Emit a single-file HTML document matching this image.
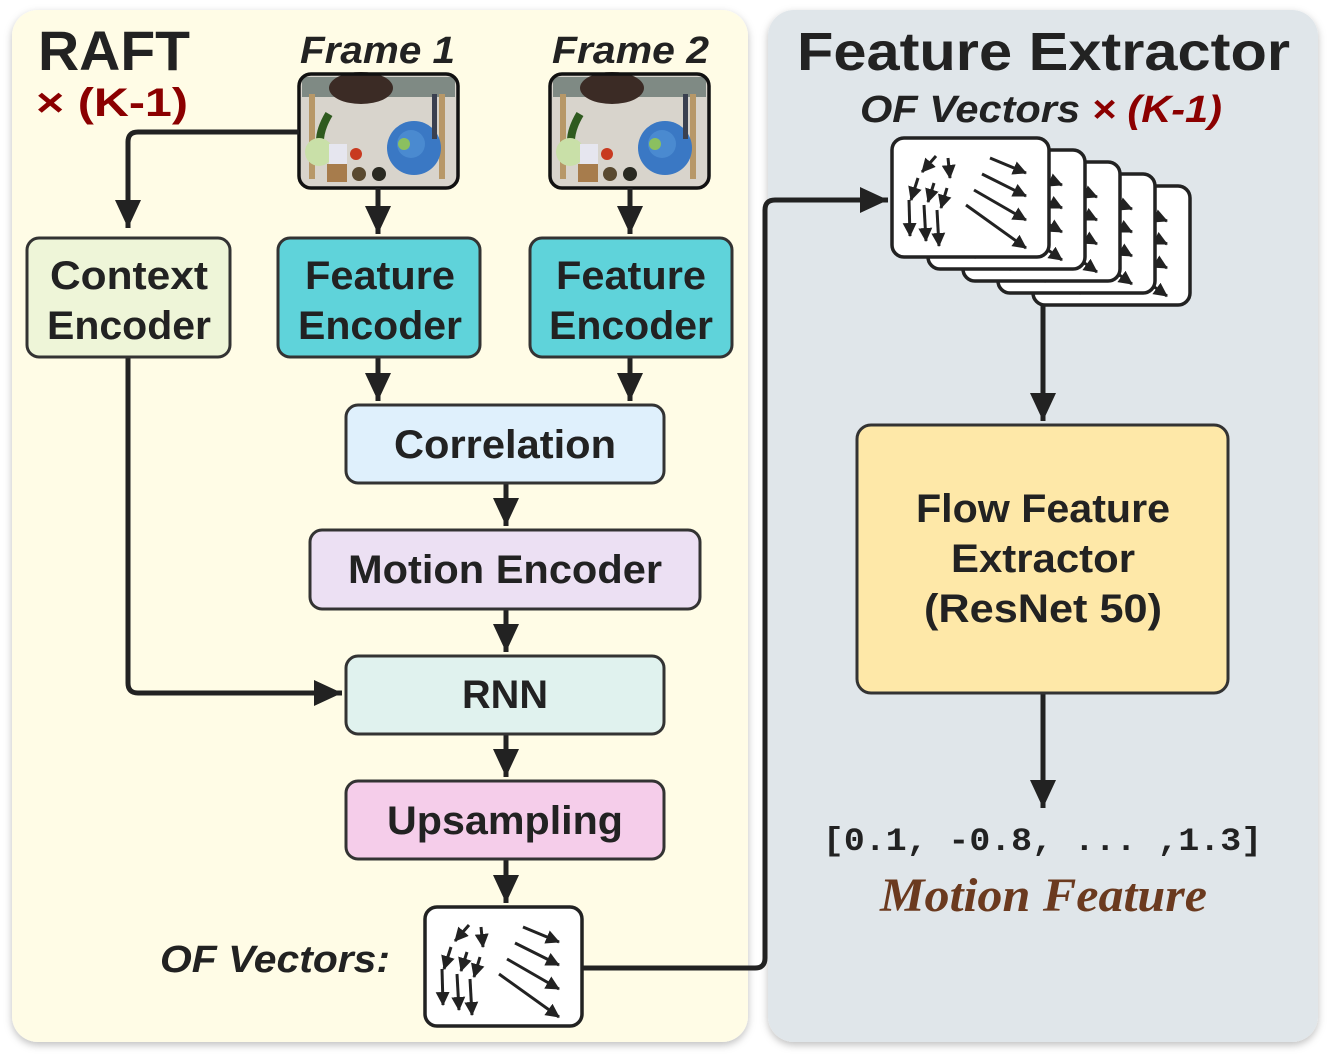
<!DOCTYPE html>
<html><head><meta charset="utf-8"><style>
body{margin:0;background:#fff;}
svg{display:block;font-family:"Liberation Sans",sans-serif;}
</style></head><body>
<svg width="1329" height="1060" viewBox="0 0 1329 1060" xmlns="http://www.w3.org/2000/svg">
<defs>
<filter id="sh" x="-5%" y="-5%" width="110%" height="110%"><feDropShadow dx="0" dy="3" stdDeviation="4" flood-color="#000" flood-opacity="0.25"/></filter>
<marker id="ah" markerWidth="16" markerHeight="16" refX="13" refY="7" orient="auto" markerUnits="userSpaceOnUse"><path d="M0,0 L14,7 L0,14z" fill="#222"/></marker>
<marker id="big" markerWidth="30" markerHeight="30" refX="28" refY="13" orient="auto" markerUnits="userSpaceOnUse"><path d="M0,0 L28,13 L0,26z" fill="#222"/></marker>
<g id="photo">
<rect x="0" y="0" width="159" height="114" rx="12" fill="#d8d4cc"/>
<rect x="3" y="3" width="153" height="20" fill="#7f8a84"/>
<ellipse cx="62" cy="14" rx="32" ry="16" fill="#3b2b25"/>
<rect x="10" y="20" width="6" height="85" fill="#b79868"/>
<rect x="140" y="20" width="6" height="85" fill="#b79868"/>
<path d="M30,40 Q18,60 22,75" stroke="#2f5a1f" stroke-width="8" fill="none"/>
<circle cx="20" cy="78" r="14" fill="#c9e0a8"/>
<rect x="30" y="70" width="18" height="20" fill="#e6e6ef"/>
<circle cx="57" cy="80" r="6" fill="#c83a20"/>
<rect x="28" y="90" width="20" height="18" fill="#a77c4c"/>
<circle cx="60" cy="100" r="7" fill="#5a4a30"/>
<circle cx="80" cy="100" r="7" fill="#2a2a22"/>
<circle cx="115" cy="74" r="27" fill="#3a78c4"/>
<circle cx="112" cy="70" r="14" fill="#4a8ad0"/>
<circle cx="105" cy="70" r="6" fill="#8bc060"/>
<rect x="133" y="20" width="5" height="45" fill="#3a4050"/>
<rect x="0" y="0" width="159" height="114" rx="12" fill="none" stroke="#111" stroke-width="3.5"/>
</g>
<g id="vec">
<rect x="0" y="0" width="157" height="119" rx="12" fill="#fff" stroke="#222" stroke-width="3.5"/>
<g stroke="#222" stroke-width="3" marker-end="url(#ah)">
<line x1="44" y1="18" x2="30" y2="34"/><line x1="56" y1="20" x2="58" y2="40"/>
<line x1="26" y1="40" x2="19" y2="62"/><line x1="42" y1="45" x2="36" y2="64"/><line x1="55" y1="50" x2="49" y2="70"/>
<line x1="17" y1="62" x2="18" y2="98"/><line x1="32" y1="67" x2="34" y2="103"/><line x1="45" y1="72" x2="47" y2="108"/>
<line x1="98" y1="20" x2="134" y2="35"/><line x1="90" y1="36" x2="134" y2="58"/><line x1="82" y1="52" x2="134" y2="82"/><line x1="74" y1="67" x2="134" y2="110"/>
</g>
</g>
</defs>

<rect x="12" y="10" width="736" height="1032" rx="26" fill="#fffce6" filter="url(#sh)"/>
<rect x="768" y="10" width="550" height="1032" rx="26" fill="#e0e6ea" filter="url(#sh)"/>

<text x="38" y="70" font-size="56" font-weight="bold" fill="#222" textLength="152" lengthAdjust="spacingAndGlyphs">RAFT</text>
<text x="36" y="116" font-size="40" font-weight="bold" fill="#8b0000" textLength="152" lengthAdjust="spacingAndGlyphs">× (K-1)</text>
<text x="300" y="63" font-size="38" font-weight="bold" font-style="italic" fill="#222" textLength="155" lengthAdjust="spacingAndGlyphs">Frame 1</text>
<text x="552" y="63" font-size="38" font-weight="bold" font-style="italic" fill="#222" textLength="157" lengthAdjust="spacingAndGlyphs">Frame 2</text>

<use href="#photo" x="299" y="74"/>
<use href="#photo" x="550" y="74"/>

<g stroke="#222" stroke-width="5" fill="none">
<path d="M299,132 H138 Q128,132 128,142 V228" marker-end="url(#big)"/>
<path d="M378,188 V234" marker-end="url(#big)"/>
<path d="M630,188 V234" marker-end="url(#big)"/>
<path d="M378,357 V401" marker-end="url(#big)"/>
<path d="M630,357 V401" marker-end="url(#big)"/>
<path d="M506,483 V526" marker-end="url(#big)"/>
<path d="M506,609 V652" marker-end="url(#big)"/>
<path d="M506,734 V777" marker-end="url(#big)"/>
<path d="M506,859 V903" marker-end="url(#big)"/>
<path d="M128,357 V683 Q128,693 138,693 H342" marker-end="url(#big)"/>
<path d="M582,968 H755 Q765,968 765,958 V210 Q765,200 775,200 H888" marker-end="url(#big)"/>
<path d="M1043,305 V421" marker-end="url(#big)"/>
<path d="M1043,693 V808" marker-end="url(#big)"/>
</g>

<g stroke="#333" stroke-width="3">
<rect x="27" y="238" width="203" height="119" rx="12" fill="#eef5d8"/>
<rect x="278" y="238" width="202" height="119" rx="12" fill="#5fd3da"/>
<rect x="530" y="238" width="202" height="119" rx="12" fill="#5fd3da"/>
<rect x="346" y="405" width="318" height="78" rx="12" fill="#dff0fc"/>
<rect x="310" y="530" width="390" height="79" rx="12" fill="#ece0f3"/>
<rect x="346" y="656" width="318" height="78" rx="12" fill="#e0f2ee"/>
<rect x="346" y="781" width="318" height="78" rx="12" fill="#f5cdea"/>
<rect x="857" y="425" width="371" height="268" rx="14" fill="#fee8a8"/>
</g>

<g font-size="40" font-weight="bold" fill="#222" text-anchor="middle" lengthAdjust="spacingAndGlyphs">
<text x="129" y="289" textLength="158" lengthAdjust="spacingAndGlyphs">Context</text><text x="129" y="339" textLength="164" lengthAdjust="spacingAndGlyphs">Encoder</text>
<text x="380" y="289" textLength="150" lengthAdjust="spacingAndGlyphs">Feature</text><text x="380" y="339" textLength="164" lengthAdjust="spacingAndGlyphs">Encoder</text>
<text x="631" y="289" textLength="150" lengthAdjust="spacingAndGlyphs">Feature</text><text x="631" y="339" textLength="164" lengthAdjust="spacingAndGlyphs">Encoder</text>
<text x="505" y="458" textLength="222" lengthAdjust="spacingAndGlyphs">Correlation</text>
<text x="505" y="583" textLength="314" lengthAdjust="spacingAndGlyphs">Motion Encoder</text>
<text x="505" y="708" textLength="86" lengthAdjust="spacingAndGlyphs">RNN</text>
<text x="505" y="834" textLength="236" lengthAdjust="spacingAndGlyphs">Upsampling</text>
<text x="1043" y="522" textLength="254" lengthAdjust="spacingAndGlyphs">Flow Feature</text>
<text x="1043" y="572" textLength="184" lengthAdjust="spacingAndGlyphs">Extractor</text>
<text x="1043" y="622" textLength="238" lengthAdjust="spacingAndGlyphs">(ResNet 50)</text>
</g>

<text x="160" y="972" font-size="38" font-weight="bold" font-style="italic" fill="#222" textLength="230" lengthAdjust="spacingAndGlyphs">OF Vectors:</text>
<use href="#vec" x="425" y="907"/>

<text x="797" y="70" font-size="54" font-weight="bold" fill="#222" textLength="493" lengthAdjust="spacingAndGlyphs">Feature Extractor</text>
<text x="860" y="122" font-size="38" font-weight="bold" font-style="italic" fill="#222" textLength="362" lengthAdjust="spacingAndGlyphs">OF Vectors <tspan fill="#8b0000">× (K-1)</tspan></text>

<use href="#vec" x="1033" y="186"/>
<use href="#vec" x="998" y="174"/>
<use href="#vec" x="963" y="162"/>
<use href="#vec" x="928" y="150"/>
<use href="#vec" x="892" y="138"/>

<text x="823" y="850" font-family="Liberation Mono,monospace" font-size="32" font-weight="bold" fill="#222" textLength="439" lengthAdjust="spacingAndGlyphs">[0.1, -0.8, ... ,1.3]</text>
<text x="880" y="911" font-family="Liberation Serif,serif" font-size="48" font-weight="bold" font-style="italic" fill="#6b3a1f" textLength="327" lengthAdjust="spacingAndGlyphs">Motion Feature</text>
</svg>
</body></html>
